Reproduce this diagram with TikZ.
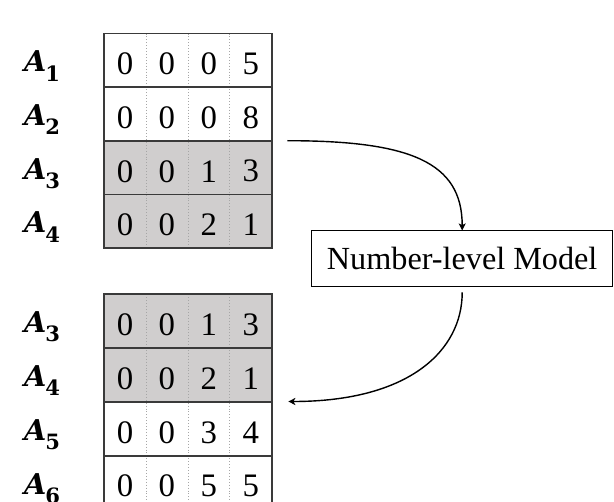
\documentclass[tikz,border=0pt]{standalone}
\usepackage{fontspec}
\setmainfont{Liberation Serif}
\newfontfamily\labfont{DejaVu Serif}
\usetikzlibrary{arrows.meta}
\definecolor{cellgray}{HTML}{D0CECE}
\definecolor{linegray}{HTML}{3A3A3A}
\newcommand\rowlab[1]{{\labfont\fontsize{24.5}{28}\selectfont\bfseries\itshape A}\kern-1pt\raisebox{-8pt}{\labfont\fontsize{18}{20}\selectfont\bfseries\upshape #1}}
\begin{document}
\begin{tikzpicture}[x=0.03cm,y=-0.03cm,
  hline/.style={draw=linegray,line width=1.4pt},
  dotline/.style={draw=gray!70,line width=0.5pt,dotted},
  digit/.style={inner sep=0pt,font=\fontsize{28}{32}\selectfont},
  lab/.style={inner sep=0pt,anchor=base west},
  modelbox/.style={draw=black,line width=0.9pt,minimum width=257pt,minimum height=47pt,inner sep=0pt,font=\fontsize{27.5}{31}\selectfont},
  flow/.style={draw=black,line width=1.2pt,-{Stealth[length=6pt,width=6pt,inset=1.5pt]}}]
\useasboundingbox (0,0) rectangle (614,501);
\clip (0,0) rectangle (614,501);
% ---- top table ----
\fill[cellgray] (104,140.9) rectangle (272,248.3);
\foreach \c in {146,188,229.5} \draw[dotline] (\c,33.5) -- (\c,248.3);
\foreach \y in {87.2,140.9,194.6} \draw[hline] (104,\y) -- (272,\y);
\draw[hline] (104,33.5) rectangle (272,248.3);
\foreach [count=\r] \row in {{0,0,0,5},{0,0,0,8},{0,0,1,3},{0,0,2,1}} {
  \foreach [count=\c] \d in \row {
    \node[digit] (ta-\r-\c) at ({125+41.9*(\c-1)},{33.5+53.7*(\r-0.5)+3.5}) {\d};
  }
}
\node[lab] (la1) at (24,71.7) {\rowlab{1}};
\node[lab] (la2) at (24,125.4) {\rowlab{2}};
\node[lab] (la3) at (24,179.1) {\rowlab{3}};
\node[lab] (la4) at (24,232.8) {\rowlab{4}};
% ---- bottom table ----
\fill[cellgray] (104,294.3) rectangle (272,402.3);
\foreach \c in {146,188,229.5} \draw[dotline] (\c,294.3) -- (\c,509.5);
\foreach \y in {348.3,402.3,455.9} \draw[hline] (104,\y) -- (272,\y);
\draw[hline] (104,294.3) rectangle (272,509.5);
\foreach [count=\r] \row in {{0,0,1,3},{0,0,2,1},{0,0,3,4},{0,0,5,5}} {
  \foreach [count=\c] \d in \row {
    \node[digit] (tb-\r-\c) at ({125+41.9*(\c-1)},{294.3+53.8*(\r-0.5)+3.5}) {\d};
  }
}
\node[lab] (lb3) at (24,332.6) {\rowlab{3}};
\node[lab] (lb4) at (24,386.4) {\rowlab{4}};
\node[lab] (lb5) at (24,440.2) {\rowlab{5}};
\node[lab] (lb6) at (24,494.0) {\rowlab{6}};
% ---- model ----
\node[modelbox] (model) at (462.2,258.5) {Number-level Model};
\coordinate (s1) at (287.3,140.7);
\coordinate (e2) at (288.3,401.5);
\draw[flow] (s1) .. controls (410,140.7) and (462.2,162) .. (model.north);
\draw[flow,shorten <=5pt] (model.south) .. controls (462.2,350) and (410,401.5) .. (e2);
\end{tikzpicture}
\end{document}
